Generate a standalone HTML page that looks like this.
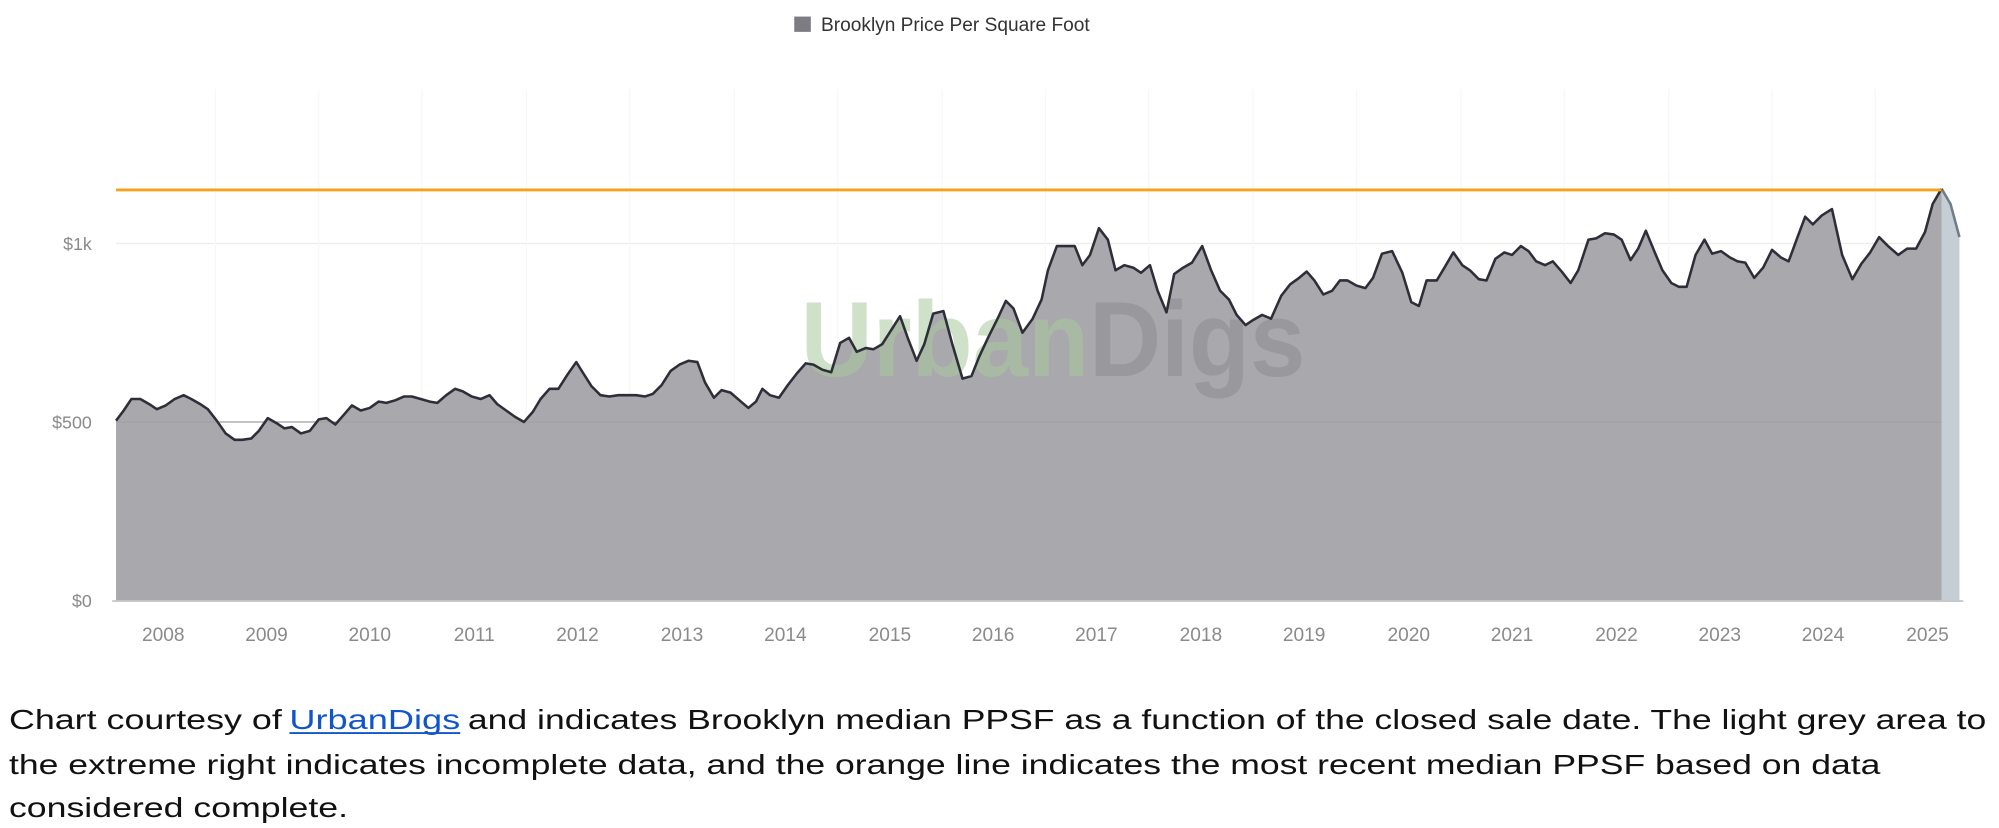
<!DOCTYPE html>
<html><head><meta charset="utf-8"><style>html,body{margin:0;padding:0;background:#fff}svg{display:block}</style></head>
<body>
<svg width="1999" height="828" viewBox="0 0 1568 649.5" xmlns="http://www.w3.org/2000/svg" font-family="'Liberation Sans', sans-serif">
<rect width="1568" height="650" fill="#fff"/>
<rect x="623" y="13" width="13" height="12" fill="#7d7c82"/>
<text x="644" y="24.5" font-size="15" fill="#333">Brooklyn Price Per Square Foot</text>
<g stroke="#ececec" stroke-width="1">
<line x1="91" y1="191" x2="1537" y2="191"/>
<line x1="91" y1="331" x2="1537" y2="331"/>
</g>
<g stroke="#f7f7f7" stroke-width="1">
<line x1="169" y1="70" x2="169" y2="471"/><line x1="250" y1="70" x2="250" y2="471"/><line x1="331" y1="70" x2="331" y2="471"/><line x1="413" y1="70" x2="413" y2="471"/><line x1="494" y1="70" x2="494" y2="471"/><line x1="576" y1="70" x2="576" y2="471"/><line x1="657" y1="70" x2="657" y2="471"/><line x1="739" y1="70" x2="739" y2="471"/><line x1="820" y1="70" x2="820" y2="471"/><line x1="901" y1="70" x2="901" y2="471"/><line x1="983" y1="70" x2="983" y2="471"/><line x1="1064" y1="70" x2="1064" y2="471"/><line x1="1146" y1="70" x2="1146" y2="471"/><line x1="1227" y1="70" x2="1227" y2="471"/><line x1="1309" y1="70" x2="1309" y2="471"/><line x1="1390" y1="70" x2="1390" y2="471"/><line x1="1471" y1="70" x2="1471" y2="471"/>
</g>
<g font-size="14" fill="#8a8a8a" text-anchor="end">
<text x="72" y="196">$1k</text><text x="72" y="336">$500</text><text x="72" y="476">$0</text>
</g>
<polygon points="1523,148 1530,160 1537,186 1537,471 1523,471" fill="#c6ced5"/>
<polyline points="1523,148 1530,160 1537,186" fill="none" stroke="#6f7d88" stroke-width="2"/>
<polygon fill="#a9a8ad" points="91,471 91,330 97,322 103,313 110,313 117,317 123,321 130,318 137,313 144,310 150,313 157,317 163,321 170,330 177,340 184,345 190,345 197,344 203,338 210,328 217,332 223,336 229,335 236,340 243,338 250,329 256,328 263,333 270,325 276,318 283,322 290,320 297,315 303,316 310,314 317,311 323,311 330,313 337,315 343,316 350,310 357,305 363,307 370,311 377,313 384,310 390,317 397,322 404,327 411,331 418,323 424,313 431,305 438,305 445,294 452,284 457,292 464,303 471,310 478,311 485,310 492,310 499,310 506,311 512,309 519,302 526,291 533,286 540,283 547,284 553,300 560,312 566,306 573,308 580,314 587,320 593,315 598,305 604,310 611,312 618,302 625,293 632,285 638,286 645,290 652,292 659,269 666,265 672,276 679,273 685,274 692,270 699,259 706,248 712,265 719,283 725,270 732,246 740,244 747,270 755,297 762,295 768,280 775,265 782,251 789,236 795,242 802,261 810,250 817,235 822,212 829,193 836,193 843,193 849,208 855,200 862,179 869,188 875,212 882,208 889,210 895,214 902,208 908,228 915,245 921,215 928,210 935,206 943,193 950,212 957,228 964,235 970,247 977,255 983,251 990,247 997,250 1005,232 1012,223 1019,218 1025,213 1031,220 1038,231 1045,228 1051,220 1057,220 1064,224 1071,226 1077,218 1084,199 1092,197 1100,214 1107,237 1113,240 1119,220 1127,220 1133,210 1140,198 1147,208 1153,212 1160,219 1166,220 1173,203 1180,198 1186,200 1193,193 1199,197 1205,205 1212,208 1218,205 1225,213 1232,222 1238,212 1246,188 1252,187 1259,183 1266,184 1272,188 1279,204 1285,195 1291,181 1298,198 1304,212 1311,222 1317,225 1323,225 1330,200 1337,188 1343,199 1350,197 1357,202 1363,205 1369,206 1376,218 1383,210 1390,196 1397,202 1403,205 1410,186 1416,170 1422,176 1429,169 1437,164 1445,200 1453,219 1460,207 1467,198 1474,186 1481,193 1489,200 1496,195 1503,195 1510,182 1516,160 1523,148 1523,471"/>
<line x1="91" y1="331" x2="1523" y2="331" stroke="#a2a1a6" stroke-width="1"/>
<text x="628" y="295" font-size="84" font-weight="bold" textLength="396" lengthAdjust="spacingAndGlyphs"><tspan fill="#a7c99a" fill-opacity="0.55">Urban</tspan><tspan fill="#8f8e93" fill-opacity="0.6">Digs</tspan></text>
<polyline fill="none" stroke="#2d2e38" stroke-width="2" stroke-linejoin="round" points="91,330 97,322 103,313 110,313 117,317 123,321 130,318 137,313 144,310 150,313 157,317 163,321 170,330 177,340 184,345 190,345 197,344 203,338 210,328 217,332 223,336 229,335 236,340 243,338 250,329 256,328 263,333 270,325 276,318 283,322 290,320 297,315 303,316 310,314 317,311 323,311 330,313 337,315 343,316 350,310 357,305 363,307 370,311 377,313 384,310 390,317 397,322 404,327 411,331 418,323 424,313 431,305 438,305 445,294 452,284 457,292 464,303 471,310 478,311 485,310 492,310 499,310 506,311 512,309 519,302 526,291 533,286 540,283 547,284 553,300 560,312 566,306 573,308 580,314 587,320 593,315 598,305 604,310 611,312 618,302 625,293 632,285 638,286 645,290 652,292 659,269 666,265 672,276 679,273 685,274 692,270 699,259 706,248 712,265 719,283 725,270 732,246 740,244 747,270 755,297 762,295 768,280 775,265 782,251 789,236 795,242 802,261 810,250 817,235 822,212 829,193 836,193 843,193 849,208 855,200 862,179 869,188 875,212 882,208 889,210 895,214 902,208 908,228 915,245 921,215 928,210 935,206 943,193 950,212 957,228 964,235 970,247 977,255 983,251 990,247 997,250 1005,232 1012,223 1019,218 1025,213 1031,220 1038,231 1045,228 1051,220 1057,220 1064,224 1071,226 1077,218 1084,199 1092,197 1100,214 1107,237 1113,240 1119,220 1127,220 1133,210 1140,198 1147,208 1153,212 1160,219 1166,220 1173,203 1180,198 1186,200 1193,193 1199,197 1205,205 1212,208 1218,205 1225,213 1232,222 1238,212 1246,188 1252,187 1259,183 1266,184 1272,188 1279,204 1285,195 1291,181 1298,198 1304,212 1311,222 1317,225 1323,225 1330,200 1337,188 1343,199 1350,197 1357,202 1363,205 1369,206 1376,218 1383,210 1390,196 1397,202 1403,205 1410,186 1416,170 1422,176 1429,169 1437,164 1445,200 1453,219 1460,207 1467,198 1474,186 1481,193 1489,200 1496,195 1503,195 1510,182 1516,160 1523,148"/>
<line x1="91" y1="149" x2="1523" y2="149" stroke="#f7a21b" stroke-width="2.2"/>
<line x1="88" y1="471.5" x2="1540" y2="471.5" stroke="#c8c8cc" stroke-width="1.5"/>
<g font-size="15" fill="#8a8a8a" text-anchor="middle">
<text x="128" y="503">2008</text><text x="209" y="503">2009</text><text x="290" y="503">2010</text><text x="372" y="503">2011</text><text x="453" y="503">2012</text><text x="535" y="503">2013</text><text x="616" y="503">2014</text><text x="698" y="503">2015</text><text x="779" y="503">2016</text><text x="860" y="503">2017</text><text x="942" y="503">2018</text><text x="1023" y="503">2019</text><text x="1105" y="503">2020</text><text x="1186" y="503">2021</text><text x="1268" y="503">2022</text><text x="1349" y="503">2023</text><text x="1430" y="503">2024</text><text x="1512" y="503">2025</text>
</g>
<g font-size="22" fill="#111">
<text x="7" y="572" textLength="214" lengthAdjust="spacingAndGlyphs">Chart courtesy of</text>
<text x="227" y="572" fill="#1155cc" textLength="134" lengthAdjust="spacingAndGlyphs">UrbanDigs</text>
<line x1="227" y1="575" x2="361" y2="575" stroke="#1155cc" stroke-width="1.5"/>
<text x="367" y="572" textLength="1191" lengthAdjust="spacingAndGlyphs">and indicates Brooklyn median PPSF as a function of the closed sale date.  The light grey area to</text>
<text x="7" y="607" textLength="1468" lengthAdjust="spacingAndGlyphs">the extreme right indicates incomplete data, and the orange line indicates the most recent median PPSF based on data</text>
<text x="7" y="641" textLength="266" lengthAdjust="spacingAndGlyphs">considered complete.</text>
</g>
</svg>
</body></html>
